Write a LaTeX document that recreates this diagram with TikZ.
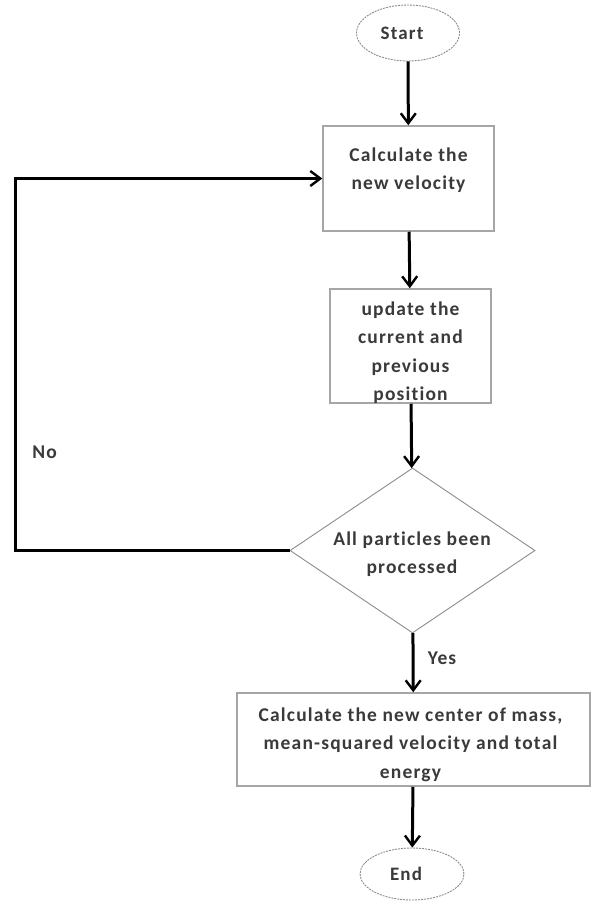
\documentclass[tikz,border=0pt]{standalone}
\usepackage{fontspec}
\setmainfont[LetterSpace=6,Ligatures=NoCommon]{Carlito}
\usetikzlibrary{shapes.geometric,arrows.meta}
\definecolor{boxgray}{HTML}{A6A6A6}
\definecolor{termgray}{HTML}{8C8C8C}
\definecolor{txtgray}{HTML}{3A3A3A}
\begin{document}
\begin{tikzpicture}[x=1pt,y=-1pt,
  flow/.style={line width=3pt,-{Straight Barb[length=10pt,width=15pt,line width=2.4pt]}},
  procbox/.style={draw=boxgray,line width=1.5pt,rectangle,inner sep=0pt},
  term/.style={draw=termgray,ellipse,dash pattern=on 2pt off 1pt,line width=0.9pt,inner sep=0pt,font=\bfseries\fontsize{19}{23}\selectfont,text=txtgray},
  decision/.style={draw=termgray,diamond,line width=0.9pt,inner sep=0pt},
  lbl/.style={font=\bfseries\fontsize{19.5}{28.5}\selectfont,text=txtgray,align=center,inner sep=0pt}
]
\useasboundingbox (0,0) rectangle (592,902);

\node[term,minimum width=103pt,minimum height=56pt] (s) at (408,33) {Start\hspace*{12pt}};
\node[procbox,minimum width=171pt,minimum height=105pt] (b1) at (408.5,178.5) {};
\node[procbox,minimum width=161pt,minimum height=114pt] (b2) at (410.5,346) {};
\node[decision,minimum width=245pt,minimum height=165pt] (d) at (412.5,550.5) {};
\node[procbox,minimum width=353pt,minimum height=93pt] (b3) at (413.5,739.5) {};
\node[term,minimum width=104pt,minimum height=52pt] (e) at (412,874) {End\hspace*{12pt}};

\node[lbl] (t1) at (408.5,170) {Calculate the\\new velocity};
\node[lbl] (t2) at (410.5,352.5) {update the\\current and\\previous\\position};
\node[lbl] (t3) at (412,554) {All particles been\\processed};
\node[lbl] (t4) at (410.5,744.5) {Calculate the new center of mass,\\mean-squared velocity and total\\energy};
\node[lbl] (no) at (44.5,452) {No};
\node[lbl] (yes) at (442,658) {Yes};

\coordinate (c) at (15,550.5);
\draw[flow] (s) -- (b1);
\draw[flow] (b1) -- (b2);
\draw[flow] (b2) -- (d);
\draw[flow] (d) -- (b3);
\draw[flow] (b3) -- (e);
\draw[flow] (d.west) -- (c) |- (b1.west);
\end{tikzpicture}
\end{document}
